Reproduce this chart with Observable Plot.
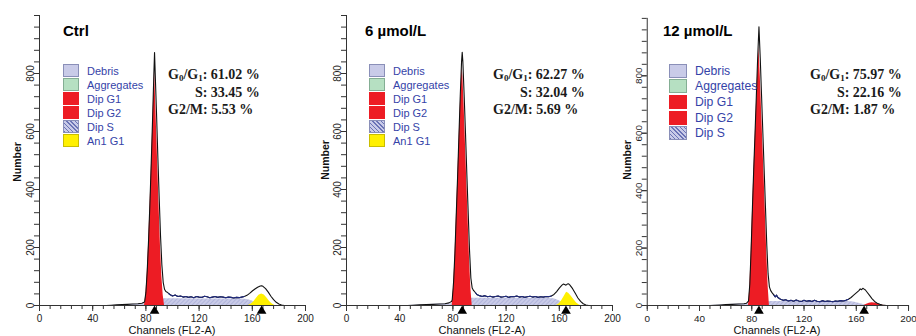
<!DOCTYPE html>
<html><head><meta charset="utf-8">
<script src="https://cdn.jsdelivr.net/npm/d3@7"></script>
<script src="https://cdn.jsdelivr.net/npm/@observablehq/plot@0.6"></script>
<style>
body{margin:0;background:#fff;}
#root{position:relative;width:916px;height:336px;overflow:hidden;font-family:"Liberation Sans",Arial,sans-serif;}
.panel{position:absolute;top:0;}
.panel svg{overflow:visible;display:block;}
.abs{position:absolute;white-space:nowrap;}
.title{font-weight:bold;font-size:15px;color:#000;transform:translateY(-50%);}
.stats{font-family:"Liberation Serif","Times New Roman",serif;font-weight:bold;font-size:14px;color:#1a1a1a;line-height:17.5px;display:inline-block;}
.stats div{white-space:nowrap;}
.stats sub{font-size:9px;vertical-align:-2px;line-height:0;}
.leg{color:#3543a8;}
.legrow{display:flex;align-items:center;}
.sw{box-sizing:border-box;border:1px solid #8a8fb8;margin-right:8px;}
.ylab{font-size:10.5px;font-weight:bold;color:#111;transform:translate(-50%,-50%) rotate(-90deg);}
.xlab{font-size:11px;color:#111;transform:translate(-50%,-50%);}
</style></head><body><div id="root"></div>
<script>
// ---------- data ----------
const panelTitles = ["Ctrl", "6 µmol/L", "12 µmol/L"];
const g0g1Values = ["61.02", "62.27", "75.97"];
const sValues = ["33.45", "32.04", "22.16"];
const g2mValues = ["5.53", "5.69", "1.87"];
const legendFull = ["Debris", "Aggregates", "Dip G1", "Dip G2", "Dip S", "An1 G1"];
const legendShort = ["Debris", "Aggregates", "Dip G1", "Dip G2", "Dip S"];
const yMajorTicks = [0, 200, 400, 600, 800];
const yMinorTicks = [0,40,80,120,160,200,240,280,320,360,400,440,480,520,560,600,640,680,720,760,800,840,880,920,960,1000];
const xMajorTicks = [0, 40, 80, 120, 160, 200];
const xMinorTicks = [0,8,16,24,32,40,48,56,64,72,80,88,96,104,112,120,128,136,144,152,160,168,176,184,192,200];
const xLabel = "Channels (FL2-A)";
const yLabel = "Number";

// Ctrl
const ctrlOutline = [[50,0],[54,1],[58,2],[62,3],[66,4],[70,5],[74,6],[77,8],[79,12],[80,45],[81,120],[82,225],[83,350],[84,490],[85,640],[86,800],[86.5,872],[87,800],[88,660],[89,510],[90,370],[91,240],[92,140],[93,80],[94,56],[95,48],[96,46],[97,42],[98,38],[100,33],[102,36],[104,31],[106,33],[108,29],[110,31],[112,28],[114,30],[116,27],[118,31],[120,29],[122,28],[124,32],[126,30],[128,27],[130,29],[132,31],[134,28],[136,30],[138,29],[140,27],[142,29],[144,28],[146,26],[148,28],[150,27],[152,29],[154,31],[156,35],[158,42],[160,50],[162,57],[164,63],[166,67],[167,68],[168,66],[170,58],[172,46],[174,32],[176,20],[178,11],[180,5],[182,2],[184,0]];
const ctrlG1 = [[79,0],[80,40],[81,110],[82,210],[83,330],[84,460],[85,600],[86,750],[86.5,810],[87,750],[88,610],[89,470],[90,330],[91,200],[92,100],[93,35],[94,0]];
const ctrlS = [[84,0],[86,8],[88,15],[90,20],[92,23],[100,23],[120,22],[140,22],[152,22],[156,21],[159,17],[162,11],[165,5],[168,1],[170,0]];
const ctrlDebris = [[54,0],[58,1],[62,2],[66,3],[70,4],[74,5],[78,6],[82,6],[86,5],[90,4],[96,3],[104,2],[114,1],[124,0]];
const ctrlAn1 = [[157,0],[159,4],[161,12],[163,24],[165,35],[167,40],[169,36],[171,26],[173,14],[175,5],[177,0]];
const ctrlMarkers = [86.5, 167];

// 6 umol/L
const um6Outline = [[46,0],[50,1],[55,2],[60,3],[65,4],[70,5],[74,6],[77,9],[79,14],[79.5,20],[80.5,80],[81.5,180],[82.5,310],[83.5,440],[84.5,580],[85.5,720],[86.5,840],[87,873],[87.5,840],[88.5,720],[89.5,590],[90.5,450],[91.5,320],[92.5,190],[93.5,95],[94.5,60],[95.5,52],[97,44],[98,38],[100,34],[102,31],[104,34],[106,30],[108,32],[110,29],[112,31],[114,33],[116,29],[118,30],[120,32],[122,28],[124,31],[126,30],[128,33],[130,29],[132,31],[134,28],[136,30],[138,32],[140,29],[142,31],[144,28],[146,30],[148,29],[150,31],[152,30],[154,33],[156,38],[158,48],[160,60],[162,70],[163,74],[164,72],[165,70],[166,74],[167,75],[168,70],[170,58],[172,42],[174,26],[176,14],[178,6],[180,2],[182,0]];
const um6G1 = [[79.5,0],[80.5,60],[81.5,160],[82.5,290],[83.5,420],[84.5,550],[85.5,680],[86.5,790],[87,822],[87.5,790],[88.5,680],[89.5,550],[90.5,420],[91.5,290],[92.5,160],[93.5,60],[94.5,0]];
const um6S = [[84,0],[86,9],[88,17],[90,22],[92,25],[100,25],[120,25],[140,24],[152,24],[156,23],[159,18],[162,11],[165,5],[168,1],[170,0]];
const um6Debris = [[46,0],[50,1],[55,2],[60,3],[65,4],[70,5],[75,6],[80,6],[86,5],[92,4],[100,2],[110,1],[120,0]];
const um6An1 = [[158,0],[160,6],[162,18],[164,34],[165.5,46],[167,42],[169,32],[171,20],[173,9],[175,2],[176,0]];
const um6Markers = [87, 165];

// 12 umol/L
const um12Outline = [[48,0],[52,1],[56,2],[60,3],[65,4],[70,5],[74,6],[76,8],[77.5,15],[78.5,75],[79.5,195],[80.5,340],[81.5,475],[82.5,600],[83.5,730],[84.5,860],[85.5,971],[86.5,860],[87.5,730],[88.5,600],[89.5,470],[90.5,340],[91.5,210],[92.5,110],[93.5,65],[94.5,52],[95.5,45],[97,36],[98,30],[99,36],[100,28],[102,22],[104,18],[106,20],[108,16],[110,18],[112,15],[114,19],[116,16],[118,14],[120,18],[122,15],[124,17],[126,14],[128,18],[130,15],[132,13],[134,17],[136,14],[138,16],[140,15],[142,13],[144,16],[146,15],[148,17],[150,16],[152,18],[154,22],[156,28],[158,36],[160,44],[162,52],[163,58],[164,55],[165,60],[166,57],[167,54],[168,48],[170,36],[172,24],[174,14],[176,8],[178,4],[180,2],[183,0]];
const um12G1 = [[77.5,0],[78.5,60],[79.5,180],[80.5,320],[81.5,450],[82.5,570],[83.5,690],[84.5,810],[85.5,901],[86.5,800],[87.5,680],[88.5,560],[89.5,440],[90.5,310],[91.5,180],[92.5,70],[93.5,0]];
const um12S = [[84,0],[87,6],[90,11],[93,14],[100,14],[120,14],[140,14],[154,14],[158,12],[161,9],[164,5],[167,2],[170,0]];
const um12Debris = [[48,0],[52,1],[56,2],[60,3],[65,4],[70,5],[75,6],[80,6],[86,5],[92,4],[100,2],[110,1],[120,0]];
const um12G2 = [[166,0],[168,4],[170,8],[172,10],[174,9],[176,6],[178,3],[180,1],[182,0]];
const um12Markers = [85.5, 166];

// ---------- styles / layout ----------
const RED = "#ed1c24", YELLOW = "#fff000", LAV = "#c9cbe8", NAVY = "#1f2a80";
const swatchStyle = {
  "Debris": `background:${LAV};`,
  "Aggregates": "background:#b6e0c2;border-color:#84ae94;",
  "Dip G1": `background:${RED};border-color:${RED};`,
  "Dip G2": `background:${RED};border-color:${RED};`,
  "Dip S": `background:repeating-linear-gradient(45deg,#6b73b6 0 1px,${LAV} 1px 3px);`,
  "An1 G1": `background:${YELLOW};border-color:#c9bd00;`
};

const panels = [
  {id:"p1", left:0, mr:5, mt:15, mb:31, outline:ctrlOutline, g1:ctrlG1, s:ctrlS, debris:ctrlDebris, g2:ctrlAn1, g2color:YELLOW, markers:ctrlMarkers,
   title:panelTitles[0], legend:legendFull, titleX:63, legX:63, swW:16, swH:13, legTop:63.5, legStep:14, legFont:11, statsX:168,
   ylab:[17,162], xlab:[172,330], g0:g0g1Values[0], s1:sValues[0], g2m:g2mValues[0]},
  {id:"p2", left:307, mr:5, mt:15, mb:31, outline:um6Outline, g1:um6G1, s:um6S, debris:um6Debris, g2:um6An1, g2color:YELLOW, markers:um6Markers,
   title:panelTitles[1], legend:legendFull, titleX:365, legX:369, swW:16, swH:13, legTop:63.5, legStep:14, legFont:11, statsX:493,
   ylab:[325,160], xlab:[482,330], g0:g0g1Values[1], s1:sValues[1], g2m:g2mValues[1]},
  {id:"p3", left:608, mr:8, mt:18, mb:29, outline:um12Outline, g1:um12G1, s:um12S, debris:um12Debris, g2:um12G2, g2color:RED, markers:um12Markers,
   title:panelTitles[2], legend:legendShort, titleX:663, legX:669, swW:18, swH:14, legTop:63, legStep:15.6, legFont:12.2, statsX:810,
   ylab:[627,160], xlab:[777,330], g0:g0g1Values[2], s1:sValues[2], g2m:g2mValues[2]}
];

const root = document.getElementById("root");

function makePanel(p) {
  const xy = {x: d => d[0], y: d => d[1]};
  const svg = Plot.plot({
    width: 310, height: 336,
    marginLeft: 39, marginRight: p.mr, marginTop: p.mt, marginBottom: p.mb,
    x: {domain: [0, 200]},
    y: {domain: [0, 1000]},
    style: {fontFamily: "'Liberation Sans', Arial, sans-serif", fontSize: "10px", color: "#222", background: "transparent", overflow: "visible"},
    marks: [
      Plot.areaY(p.debris, {...xy, fill: LAV}),
      Plot.areaY(p.s, {...xy, fill: `url(#${p.id}-hatch)`}),
      Plot.areaY(p.g1, {...xy, fill: RED}),
      Plot.areaY(p.g2, {...xy, fill: p.g2color}),
      Plot.line(p.outline, {...xy, stroke: "#111", strokeWidth: 1.1}),
      Plot.line(p.outline.filter(d => d[0] >= 97 && d[0] <= 155), {...xy, stroke: NAVY, strokeWidth: 1.1}),
      Plot.ruleX([0], {y1: 0, y2: 1000, stroke: "#333"}),
      Plot.ruleY([0], {x1: 0, x2: 200, stroke: "#333"}),
      Plot.axisY({ticks: yMinorTicks, tickSize: 5, tickFormat: () => "", label: null, stroke: "#333"}),
      Plot.axisY({ticks: yMajorTicks, tickSize: 5, tickPadding: 0.5, tickRotate: -90, label: null, stroke: "#333"}),
      Plot.axisX({ticks: xMinorTicks, tickSize: 4, tickFormat: () => "", label: null, stroke: "#333"}),
      Plot.axisX({ticks: xMajorTicks, tickSize: 6, tickPadding: 3.5, label: null, stroke: "#333"}),
      Plot.dot(p.markers, {x: d => d, y: () => 0, symbol: "triangle", r: 3.6, fill: "#000", dy: 5.5})
    ]
  });
  const ns = "http://www.w3.org/2000/svg";
  const defs = document.createElementNS(ns, "defs");
  defs.innerHTML = `<pattern id="${p.id}-hatch" patternUnits="userSpaceOnUse" width="3" height="3" patternTransform="rotate(45)">
      <rect width="3" height="3" fill="${LAV}"/><line x1="0" y1="0" x2="0" y2="3" stroke="#8d94c8" stroke-width="0.8"/></pattern>`;
  svg.insertBefore(defs, svg.firstChild);
  const wrap = document.createElement("div");
  wrap.className = "panel";
  wrap.style.left = p.left + "px";
  wrap.appendChild(svg);
  root.appendChild(wrap);

  const t = document.createElement("div");
  t.className = "abs title";
  t.style.left = p.titleX + "px"; t.style.top = "30px";
  t.textContent = p.title;
  root.appendChild(t);

  const leg = document.createElement("div");
  leg.className = "abs leg";
  leg.style.left = p.legX + "px"; leg.style.top = p.legTop + "px";
  leg.style.fontSize = p.legFont + "px";
  p.legend.forEach(name => {
    const row = document.createElement("div");
    row.className = "legrow";
    row.style.height = p.legStep + "px";
    row.innerHTML = `<span class="sw" style="width:${p.swW}px;height:${p.swH}px;${swatchStyle[name]}"></span><span>${name}</span>`;
    leg.appendChild(row);
  });
  root.appendChild(leg);

  const st = document.createElement("div");
  st.className = "abs stats";
  st.style.left = p.statsX + "px"; st.style.top = "66px";
  st.innerHTML = `<div>G<sub>0</sub>/G<sub>1</sub>: ${p.g0} %</div><div style="text-align:right">S: ${p.s1} %</div><div>G2/M: ${p.g2m} %</div>`;
  root.appendChild(st);

  const yl = document.createElement("div");
  yl.className = "abs ylab";
  yl.style.left = p.ylab[0] + "px"; yl.style.top = p.ylab[1] + "px";
  yl.textContent = yLabel;
  root.appendChild(yl);
  const xl = document.createElement("div");
  xl.className = "abs xlab";
  xl.style.left = p.xlab[0] + "px"; xl.style.top = p.xlab[1] + "px";
  xl.textContent = xLabel;
  root.appendChild(xl);
}

panels.forEach(makePanel);
</script></body></html>
